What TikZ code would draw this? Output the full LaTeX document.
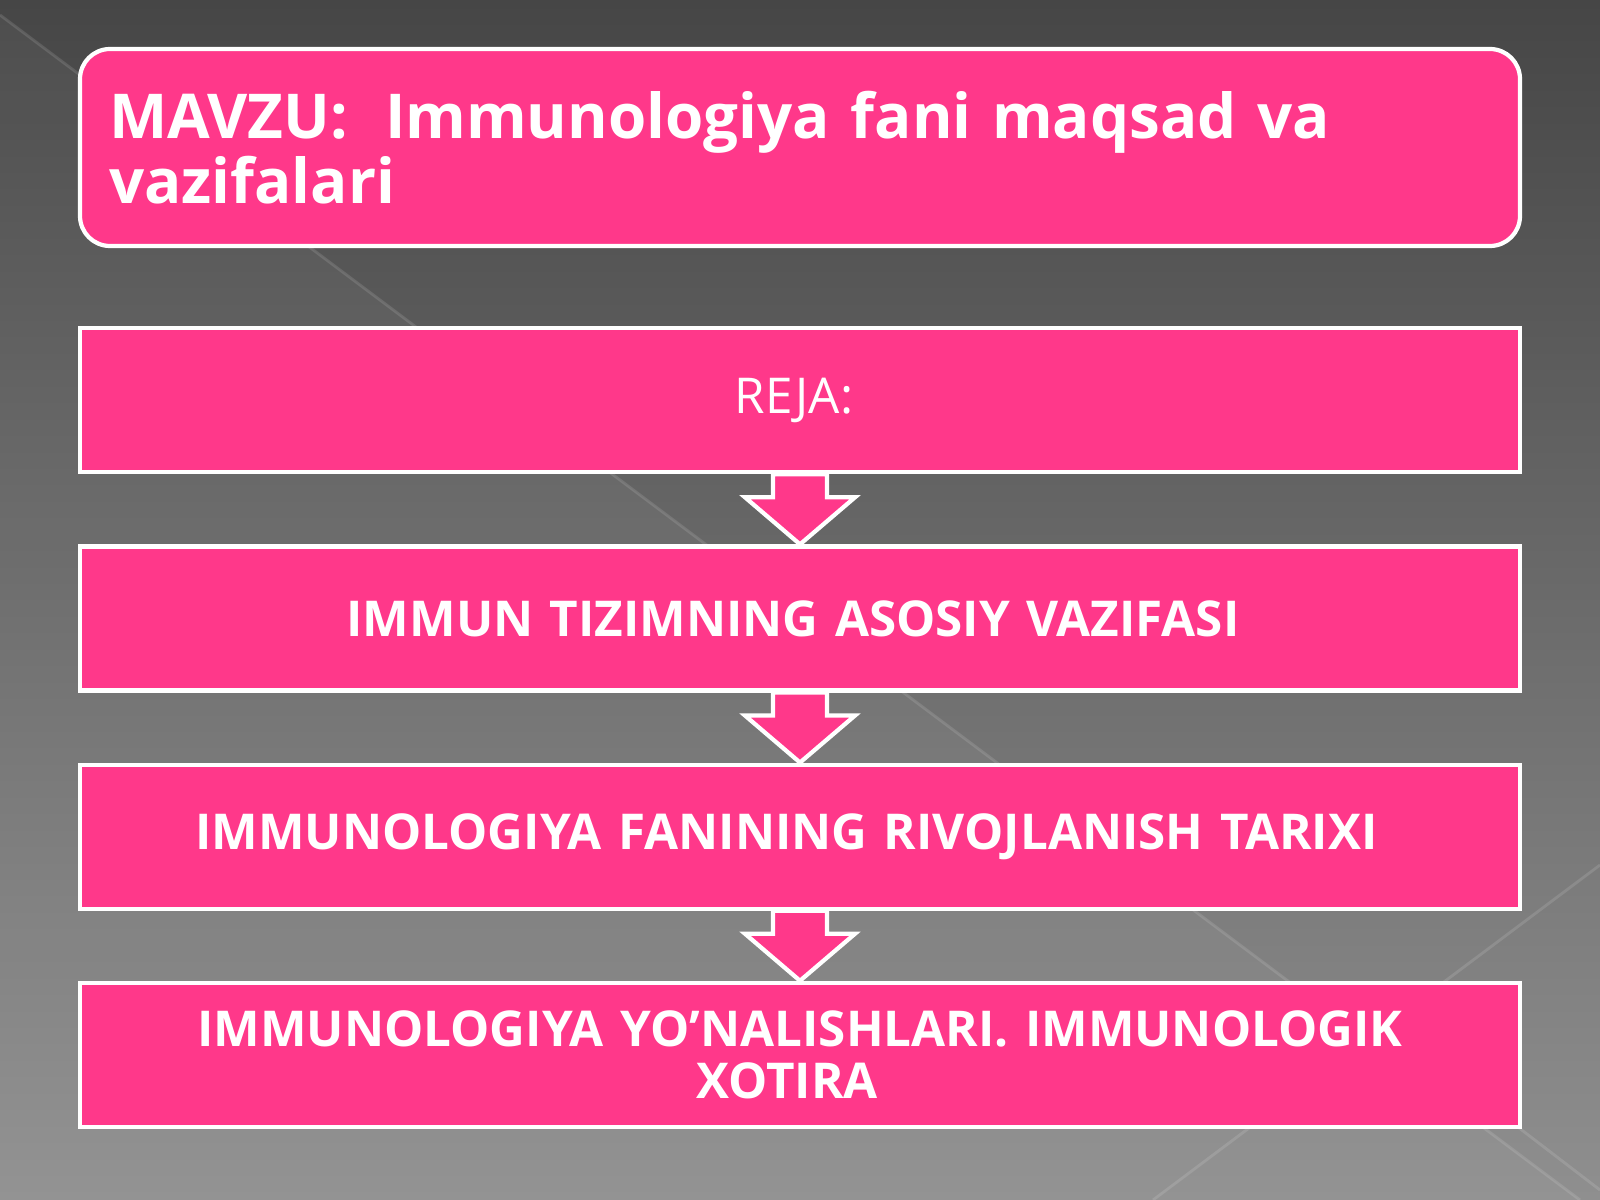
\documentclass[tikz,border=0pt]{standalone}
\usepackage{fontspec}
\setmainfont{Open Sans}
\usepackage{tikz}
\usetikzlibrary{positioning, calc}

\definecolor{pushti}{RGB}{255,56,138}
\definecolor{fontepa}{RGB}{70,70,70}
\definecolor{fonpast}{RGB}{143,143,143}

\begin{document}
\begin{tikzpicture}[
		    x=0.1mm, y=-0.1mm,
		    every node/.style={draw=white, line width=1.2pt, fill=pushti, text=white, inner sep=0pt},
		    node distance=7mm
		]
		\tikzset{
		    quti/.style={minimum width=144mm, minimum height=14.4mm, text width=144mm, align=center,
		        font=\fontsize{14.05}{14.9}\selectfont},
		    qalin/.style={quti, font=\fontsize{14.05}{14.9}\selectfont\bfseries},
		    sarlavha/.style={rounded corners=3mm, minimum width=144mm, minimum height=19.7mm,
		        inner xsep=2.9mm, text width=138.2mm, align=left, font=\fontsize{17.6}{18.6}\selectfont\bfseries},
		    strelka/.style={draw=white, line width=1.2pt, fill=pushti, line join=miter},
		    chiziq/.style={draw=white, opacity=0.12, line width=0.8pt}
		}
		% fon
		\useasboundingbox (0,0) rectangle (1600,1200);
		\shade[top color=fontepa, bottom color=fonpast] (0,0) rectangle (1600,1200);
		\fill[white, opacity=0.04] (0,15) -- (1580,1200) -- (0,1200) -- cycle;
		\draw[chiziq] (0,15) -- (1580,1200);
		\draw[chiziq] (1600,865) -- (1153,1200);
		\draw[chiziq] (1450,1075) -- (1600,1190);
		% qutilar
		\node[sarlavha] (mavzu) at (800,147.5) {MAVZU:\hspace{0.6em}Immunologiya fani maqsad va\\vazifalari};
		\node[quti, below=7.8mm of mavzu] (reja) {REJA:\hspace*{1.2mm}};
		\node[qalin, below=of reja] (vazifa) {IMMUN TIZIMNING ASOSIY VAZIFASI\hspace*{1.4mm}};
		\node[qalin, below=of vazifa] (tarix) {IMMUNOLOGIYA FANINING RIVOJLANISH TARIXI\hspace*{2.7mm}};
		\node[qalin, below=of tarix] (yonalish) {IMMUNOLOGIYA YO’NALISHLARI. IMMUNOLOGIK\\XOTIRA\hspace*{2.6mm}};
		% strelkalar
		\foreach \a/\b in {reja/vazifa, vazifa/tarix, tarix/yonalish}
		    \filldraw[strelka] ([xshift=-2.7mm]\a.south) -- ++(0,23) -- ++(-28,0) -- (\b.north)
		        -- ($([xshift=5.5mm]\a.south)+(0,23)$) -- ++(-28,0) -- ([xshift=2.7mm]\a.south) -- cycle;
\end{tikzpicture}
\end{document}
